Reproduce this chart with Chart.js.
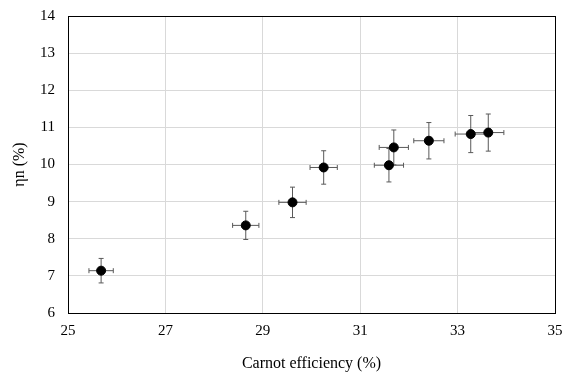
<!DOCTYPE html>
<html>
<head>
<meta charset="utf-8">
<script src="https://cdn.jsdelivr.net/npm/chart.js@4"></script>
<style>
  html, body { margin: 0; padding: 0; background: #fff; }
  #wrap { width: 572px; height: 381px; }
</style>
</head>
<body>
<div id="wrap"><canvas id="chart1" width="572" height="381"></canvas></div>
<script>
// values
var carnot = [25.68, 28.65, 29.61, 30.25, 31.59, 31.69, 32.41, 33.27, 33.63];
var etaN = [7.14, 8.36, 8.98, 9.92, 9.98, 10.46, 10.64, 10.82, 10.86];
var carnotErr = [0.25, 0.27, 0.28, 0.28, 0.30, 0.30, 0.31, 0.32, 0.32];
var etaErr = [0.33, 0.38, 0.41, 0.45, 0.45, 0.47, 0.49, 0.50, 0.50];

var xTicks = [25, 27, 29, 31, 33, 35];
var yTicks = [6, 7, 8, 9, 10, 11, 12, 13, 14];

var fontFam = '"Liberation Serif", "Times New Roman", serif';

var points = carnot.map(function (c, i) {
  return { x: c, y: etaN[i] };
});

// draws x and y error bars under the markers
var errorBars = {
  id: 'errorBars',
  beforeDatasetsDraw: function (chart) {
    var ctx = chart.ctx;
    var xs = chart.scales.x, ys = chart.scales.y;
    var cap = 2.5;
    ctx.save();
    ctx.strokeStyle = '#595959';
    ctx.lineWidth = 1;
    for (var i = 0; i < carnot.length; i++) {
      var px = xs.getPixelForValue(carnot[i]);
      var py = ys.getPixelForValue(etaN[i]);
      var x0 = xs.getPixelForValue(carnot[i] - carnotErr[i]);
      var x1 = xs.getPixelForValue(carnot[i] + carnotErr[i]);
      var y0 = ys.getPixelForValue(etaN[i] - etaErr[i]);
      var y1 = ys.getPixelForValue(etaN[i] + etaErr[i]);
      ctx.beginPath();
      ctx.moveTo(x0, py); ctx.lineTo(x1, py);
      ctx.moveTo(x0, py - cap); ctx.lineTo(x0, py + cap);
      ctx.moveTo(x1, py - cap); ctx.lineTo(x1, py + cap);
      ctx.moveTo(px, y0); ctx.lineTo(px, y1);
      ctx.moveTo(px - cap, y0); ctx.lineTo(px + cap, y0);
      ctx.moveTo(px - cap, y1); ctx.lineTo(px + cap, y1);
      ctx.stroke();
    }
    ctx.restore();
  }
};

// box round the plot area
var frame = {
  id: 'frame',
  afterDraw: function (chart) {
    var a = chart.chartArea, ctx = chart.ctx;
    ctx.save();
    ctx.strokeStyle = '#000';
    ctx.lineWidth = 1;
    ctx.strokeRect(Math.round(a.left) + 0.5, Math.round(a.top) + 0.5,
      Math.round(a.right - a.left), Math.round(a.bottom - a.top));
    ctx.restore();
  }
};

var ctx = document.getElementById('chart1').getContext('2d');
var chart1 = new Chart(ctx, {
  type: 'scatter',
  data: {
    datasets: [{
      data: points,
      backgroundColor: '#000',
      borderColor: '#000',
      pointRadius: 4.5,
      pointHoverRadius: 4.5
    }]
  },
  options: {
    responsive: false,
    animation: false,
    events: [],
    layout: { padding: { left: 0, right: 17, top: 16, bottom: 0 } },
    plugins: {
      legend: { display: false },
      tooltip: { enabled: false }
    },
    scales: {
      x: {
        type: 'linear',
        min: 25,
        max: 35,
        afterBuildTicks: function (s) {
          s.ticks = xTicks.map(function (v) { return { value: v }; });
        },
        afterFit: function (s) { s.height = 68; },
        grid: { color: '#d9d9d9', drawTicks: false },
        border: { color: '#000' },
        ticks: { color: '#000', padding: 9, font: { family: fontFam, size: 15 } },
        title: {
          display: true,
          text: 'Carnot efficiency (%)',
          color: '#000',
          padding: { top: 0, bottom: 8 },
          font: { family: fontFam, size: 16 }
        }
      },
      y: {
        type: 'linear',
        min: 6,
        max: 14,
        afterBuildTicks: function (s) {
          s.ticks = yTicks.map(function (v) { return { value: v }; });
        },
        afterFit: function (s) {
          s.width = 68;
          s.paddingTop = 0;
          s.paddingBottom = 0;
        },
        grid: { color: '#d9d9d9', drawTicks: false },
        border: { color: '#000' },
        ticks: { color: '#000', padding: 13, font: { family: fontFam, size: 15 } },
        title: {
          display: true,
          text: 'ηn (%)',
          color: '#000',
          padding: { top: 10, bottom: 0 },
          font: { family: fontFam, size: 16 }
        }
      }
    }
  },
  plugins: [errorBars, frame]
});
</script>
</body>
</html>
